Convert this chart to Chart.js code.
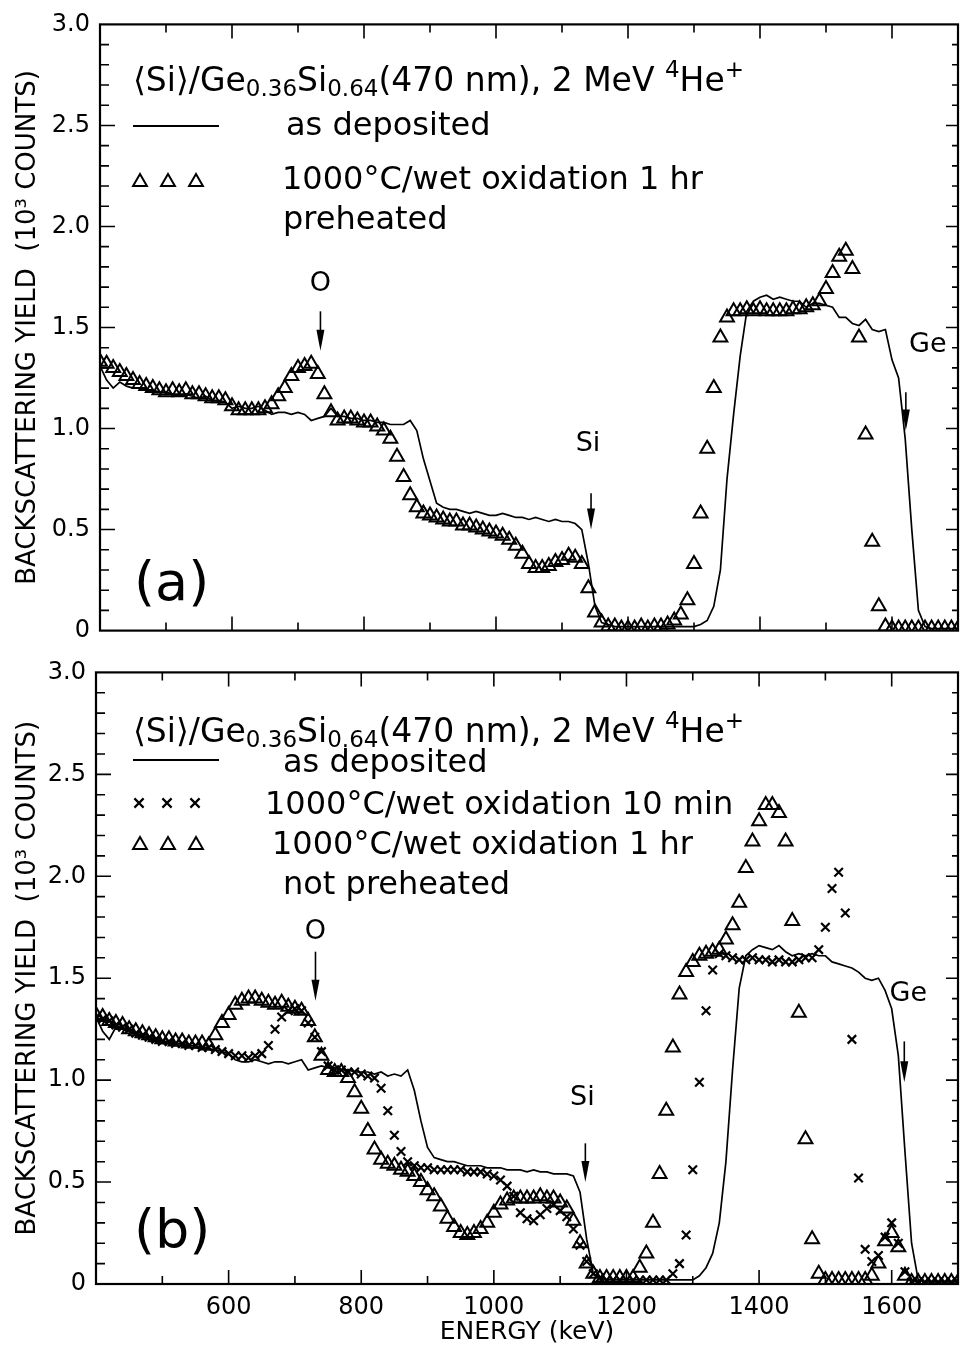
<!DOCTYPE html>
<html>
<head>
<meta charset="utf-8">
<script src="https://cdn.jsdelivr.net/npm/chart.js@4.4.1/dist/chart.umd.min.js"></script>
<style>
  html, body { margin: 0; padding: 0; background: #fff; }
  #boxA { position: absolute; left: 0; top: 0; }
  #boxB { position: absolute; left: 0; top: 648px; }
</style>
</head>
<body>
<div id="boxA"><canvas id="chartA" width="968" height="655"></canvas></div>
<div id="boxB"><canvas id="chartB" width="968" height="699"></canvas></div>
<script>
// energy channels (keV), shared by every series
const energy = [
  400, 410, 420, 430, 440, 450, 460, 470, 480, 490,
  500, 510, 520, 530, 540, 550, 560, 570, 580, 590,
  600, 610, 620, 630, 640, 650, 660, 670, 680, 690,
  700, 710, 720, 730, 740, 750, 760, 770, 780, 790,
  800, 810, 820, 830, 840, 850, 860, 870, 880, 890,
  900, 910, 920, 930, 940, 950, 960, 970, 980, 990,
  1000, 1010, 1020, 1030, 1040, 1050, 1060, 1070, 1080, 1090,
  1100, 1110, 1120, 1130, 1140, 1150, 1160, 1170, 1180, 1190,
  1200, 1210, 1220, 1230, 1240, 1250, 1260, 1270, 1280, 1290,
  1300, 1310, 1320, 1330, 1340, 1350, 1360, 1370, 1380, 1390,
  1400, 1410, 1420, 1430, 1440, 1450, 1460, 1470, 1480, 1490,
  1500, 1510, 1520, 1530, 1540, 1550, 1560, 1570, 1580, 1590,
  1600, 1610, 1620, 1630, 1640, 1650, 1660, 1670, 1680, 1690,
  1700
];

// panel (a): as deposited (line)
const depositedA = [
  1.31, 1.24, 1.20, 1.23, 1.21, 1.20, 1.20, 1.19, 1.19, 1.18,
  1.18, 1.17, 1.16, 1.17, 1.16, 1.15, 1.16, 1.14, 1.14, 1.13,
  1.10, 1.11, 1.10, 1.10, 1.11, 1.09, 1.07, 1.08, 1.08, 1.07,
  1.08, 1.07, 1.04, 1.05, 1.06, 1.10, 1.06, 1.06, 1.05, 1.05,
  1.04, 1.04, 1.03, 1.03, 1.02, 1.02, 1.02, 1.04, 0.99, 0.85,
  0.74, 0.63, 0.61, 0.60, 0.60, 0.59, 0.58, 0.59, 0.58, 0.57,
  0.57, 0.58, 0.57, 0.56, 0.56, 0.55, 0.56, 0.55, 0.54, 0.55,
  0.54, 0.54, 0.53, 0.50, 0.33, 0.12, 0.04, 0.03, 0.02, 0.02,
  0.02, 0.02, 0.02, 0.02, 0.02, 0.02, 0.02, 0.02, 0.02, 0.02,
  0.02, 0.03, 0.05, 0.12, 0.30, 0.75, 1.07, 1.36, 1.58, 1.63,
  1.65, 1.66, 1.64, 1.65, 1.64, 1.63, 1.63, 1.60, 1.62, 1.62,
  1.61, 1.60, 1.55, 1.55, 1.52, 1.51, 1.54, 1.49, 1.48, 1.49,
  1.34, 1.25, 0.95, 0.50, 0.10, 0.02, 0.01, 0.01, 0.01, 0.01,
  0.01
];

// panel (a): 1000C wet oxidation 1 hr, preheated (triangles)
const oxid1hA = [
  1.33, 1.32, 1.30, 1.28, 1.26, 1.24, 1.22, 1.21, 1.20, 1.19,
  1.18, 1.19, 1.18, 1.19, 1.17, 1.17, 1.16, 1.15, 1.15, 1.14,
  1.11, 1.09, 1.09, 1.09, 1.09, 1.10, 1.12, 1.16, 1.20, 1.26,
  1.30, 1.31, 1.32, 1.27, 1.17, 1.08, 1.04, 1.05, 1.05, 1.04,
  1.03, 1.03, 1.01, 0.99, 0.95, 0.86, 0.76, 0.67, 0.61, 0.58,
  0.57, 0.56, 0.55, 0.54, 0.54, 0.52, 0.52, 0.51, 0.50, 0.49,
  0.48, 0.47, 0.45, 0.42, 0.38, 0.33, 0.31, 0.31, 0.32, 0.34,
  0.35, 0.37, 0.36, 0.33, 0.21, 0.09, 0.04, 0.02, 0.02, 0.01,
  0.01, 0.01, 0.02, 0.01, 0.02, 0.02, 0.03, 0.05, 0.08, 0.15,
  0.33, 0.58, 0.90, 1.20, 1.45, 1.55, 1.58, 1.58, 1.59, 1.58,
  1.59, 1.58, 1.58, 1.58, 1.58, 1.59, 1.59, 1.60, 1.61, 1.63,
  1.69, 1.77, 1.85, 1.88, 1.79, 1.45, 0.97, 0.44, 0.12, 0.02,
  0.01, 0.01, 0.01, 0.01, 0.01, 0.01, 0.01, 0.01, 0.01, 0.01,
  0.01
];

// panel (b): as deposited (line)
const depositedB = [
  1.31, 1.24, 1.20, 1.26, 1.25, 1.24, 1.23, 1.22, 1.21, 1.20,
  1.19, 1.19, 1.18, 1.18, 1.17, 1.17, 1.16, 1.15, 1.15, 1.14,
  1.13, 1.10, 1.09, 1.09, 1.10, 1.09, 1.08, 1.09, 1.09, 1.08,
  1.09, 1.10, 1.05, 1.06, 1.07, 1.06, 1.06, 1.05, 1.05, 1.04,
  1.04, 1.04, 1.03, 1.04, 1.02, 1.03, 1.02, 1.05, 0.95, 0.80,
  0.67, 0.62, 0.61, 0.60, 0.60, 0.59, 0.58, 0.58, 0.58, 0.57,
  0.57, 0.57, 0.56, 0.56, 0.56, 0.55, 0.56, 0.55, 0.55, 0.54,
  0.54, 0.54, 0.53, 0.45, 0.22, 0.05, 0.03, 0.02, 0.02, 0.02,
  0.02, 0.02, 0.02, 0.02, 0.02, 0.02, 0.02, 0.02, 0.02, 0.02,
  0.02, 0.04, 0.08, 0.15, 0.30, 0.60, 1.05, 1.45, 1.61, 1.64,
  1.66, 1.65, 1.64, 1.66, 1.63, 1.61, 1.62, 1.61, 1.62, 1.61,
  1.61, 1.58, 1.57, 1.56, 1.55, 1.53, 1.50, 1.49, 1.50, 1.44,
  1.35, 1.12, 0.65, 0.20, 0.02, 0.01, 0.01, 0.01, 0.01, 0.01,
  0.01
];

// panel (b): 1000C wet oxidation 10 min, not preheated (crosses)
const oxid10mB = [
  1.31, 1.30, 1.29, 1.27, 1.26, 1.25, 1.23, 1.22, 1.21, 1.20,
  1.19, 1.19, 1.18, 1.18, 1.17, 1.17, 1.16, 1.16, 1.15, 1.14,
  1.13, 1.12, 1.12, 1.11, 1.12, 1.13, 1.17, 1.25, 1.31, 1.34,
  1.35, 1.34, 1.28, 1.21, 1.14, 1.07, 1.05, 1.05, 1.04, 1.04,
  1.03, 1.02, 1.01, 0.96, 0.85, 0.73, 0.65, 0.60, 0.58, 0.57,
  0.57, 0.56, 0.56, 0.56, 0.56, 0.56, 0.55, 0.55, 0.55, 0.54,
  0.53, 0.51, 0.48, 0.43, 0.35, 0.32, 0.31, 0.34, 0.37, 0.39,
  0.36, 0.33, 0.27, 0.19, 0.11, 0.05, 0.03, 0.02, 0.02, 0.02,
  0.02, 0.02, 0.02, 0.02, 0.02, 0.02, 0.02, 0.05, 0.10, 0.24,
  0.56, 0.99, 1.34, 1.54, 1.62, 1.61, 1.60, 1.59, 1.59, 1.60,
  1.59, 1.59, 1.58, 1.59, 1.58, 1.58, 1.59, 1.60, 1.60, 1.64,
  1.75, 1.94, 2.02, 1.82, 1.20, 0.52, 0.17, 0.11, 0.14, 0.23,
  0.30, 0.20, 0.06, 0.01, 0.01, 0.01, 0.01, 0.01, 0.01, 0.01,
  0.01
];

// panel (b): 1000C wet oxidation 1 hr, not preheated (triangles)
const oxid1hB = [
  1.32, 1.31, 1.29, 1.28, 1.27, 1.25, 1.24, 1.23, 1.22, 1.21,
  1.20, 1.20, 1.19, 1.19, 1.18, 1.18, 1.18, 1.17, 1.22, 1.28,
  1.32, 1.37, 1.39, 1.40, 1.40, 1.39, 1.38, 1.37, 1.38, 1.36,
  1.35, 1.34, 1.29, 1.21, 1.12, 1.05, 1.04, 1.04, 1.01, 0.94,
  0.86, 0.75, 0.66, 0.61, 0.59, 0.58, 0.56, 0.55, 0.53, 0.50,
  0.46, 0.43, 0.38, 0.32, 0.28, 0.25, 0.24, 0.25, 0.27, 0.30,
  0.35, 0.39, 0.41, 0.42, 0.42, 0.42, 0.42, 0.43, 0.42, 0.42,
  0.40, 0.37, 0.31, 0.20, 0.10, 0.05, 0.03, 0.03, 0.03, 0.03,
  0.03, 0.03, 0.08, 0.15, 0.30, 0.54, 0.85, 1.16, 1.42, 1.53,
  1.58, 1.61, 1.62, 1.63, 1.64, 1.69, 1.76, 1.87, 2.04, 2.17,
  2.27, 2.35, 2.35, 2.31, 2.17, 1.78, 1.33, 0.71, 0.22, 0.05,
  0.02, 0.02, 0.02, 0.02, 0.02, 0.02, 0.02, 0.04, 0.10, 0.21,
  0.25, 0.18, 0.04, 0.01, 0.01, 0.01, 0.01, 0.01, 0.01, 0.01,
  0.01
];

const yTicks = [0, 0.5, 1.0, 1.5, 2.0, 2.5, 3.0];
const xTickLabels = [600, 800, 1000, 1200, 1400, 1600];

const FONT = '"DejaVu Sans", "Liberation Sans", sans-serif';
const pts = arr => arr.map((v, i) => ({ x: energy[i], y: v }));

function lineSet(values) {
  return { data: pts(values), showLine: true, borderColor: '#000', borderWidth: 1.7,
           pointRadius: 0, tension: 0, order: 0 };
}
function triSet(values) {
  return { data: pts(values), showLine: false, pointStyle: 'triangle', pointRadius: 8,
           borderColor: '#000', backgroundColor: 'rgba(0,0,0,0)', pointBorderWidth: 2, order: 1 };
}
function crossSet(values) {
  return { data: pts(values), showLine: false, pointStyle: 'crossRot', pointRadius: 6,
           borderColor: '#000', pointBorderWidth: 2.2, order: 2 };
}

// open triangle / cross for the hand drawn legend rows
function tri(ctx, x, y, r) {
  ctx.beginPath();
  ctx.moveTo(x, y - r);
  ctx.lineTo(x + r * 0.866, y + r * 0.5);
  ctx.lineTo(x - r * 0.866, y + r * 0.5);
  ctx.closePath();
  ctx.lineWidth = 2;
  ctx.stroke();
}
function cross(ctx, x, y, r) {
  ctx.beginPath();
  ctx.moveTo(x - r, y - r); ctx.lineTo(x + r, y + r);
  ctx.moveTo(x + r, y - r); ctx.lineTo(x - r, y + r);
  ctx.lineWidth = 2.2;
  ctx.stroke();
}
function arrow(ctx, x, y0, y1) {
  ctx.beginPath();
  ctx.moveTo(x, y0); ctx.lineTo(x, y1 - 16);
  ctx.lineWidth = 1.6;
  ctx.stroke();
  ctx.beginPath();
  ctx.moveTo(x - 4, y1 - 21); ctx.lineTo(x + 4, y1 - 21); ctx.lineTo(x, y1);
  ctx.closePath();
  ctx.fill();
}
function rich(ctx, x, y, parts, size) {
  for (const [txt, mode] of parts) {
    const s = mode === 'n' ? size : Math.round(size * 0.7);
    const dy = mode === 'sub' ? size * 0.16 : mode === 'sup' ? -size * 0.42 : 0;
    ctx.font = s + 'px ' + FONT;
    ctx.fillText(txt, x, y + dy);
    x += ctx.measureText(txt).width;
  }
}
const titleParts = [['\u27E8Si\u27E9/Ge', 'n'], ['0.36', 'sub'], ['Si', 'n'], ['0.64', 'sub'],
                    ['(470 nm), 2 MeV ', 'n'], ['4', 'sup'], ['He', 'n'], ['+', 'sup']];

// frame with inward ticks on all four sides
const frame = {
  id: 'frame',
  afterDraw(chart) {
    const { ctx, chartArea: a, scales: { x, y } } = chart;
    ctx.save();
    ctx.strokeStyle = '#000';
    ctx.lineWidth = 2.2;
    ctx.strokeRect(a.left, a.top, a.right - a.left, a.bottom - a.top);
    ctx.lineWidth = 1.6;
    ctx.beginPath();
    for (let e = 500; e < 1700; e += 100) {
      const px = x.getPixelForValue(e);
      const len = e % 200 === 0 ? 14 : 8;
      ctx.moveTo(px, a.bottom); ctx.lineTo(px, a.bottom - len);
      ctx.moveTo(px, a.top); ctx.lineTo(px, a.top + len);
    }
    for (let k = 1; k < 30; k++) {
      const py = y.getPixelForValue(k / 10);
      const major = k % 5 === 0;
      ctx.moveTo(a.left, py); ctx.lineTo(a.left + (major ? 15 : 9), py);
      ctx.moveTo(a.right, py); ctx.lineTo(a.right - (major ? 12 : 6), py);
    }
    ctx.stroke();
    ctx.restore();
  }
};

// text, legend rows and arrows of each panel
function notes(spec) {
  return {
    id: 'notes',
    afterDraw(chart) {
      const { ctx, scales: { x, y } } = chart;
      ctx.save();
      ctx.fillStyle = '#000';
      ctx.strokeStyle = '#000';
      ctx.textBaseline = 'alphabetic';
      ctx.textAlign = 'left';
      rich(ctx, 133, spec.titleY, titleParts, 33);
      ctx.font = '32px ' + FONT;
      for (const t of spec.texts) ctx.fillText(t[0], t[1], t[2]);
      ctx.lineWidth = 2;
      ctx.beginPath(); ctx.moveTo(133, spec.lineY); ctx.lineTo(219, spec.lineY); ctx.stroke();
      for (const s of spec.symbols) {
        for (const sx of [140, 168, 196]) {
          if (s[0] === 'tri') tri(ctx, sx, s[1], 8); else cross(ctx, sx - 1, s[1], 4.6);
        }
      }
      ctx.font = '27px ' + FONT;
      ctx.textAlign = 'center';
      for (const m of spec.marks) {
        const px = x.getPixelForValue(m.e);
        arrow(ctx, px, y.getPixelForValue(m.y0), y.getPixelForValue(m.y1));
        ctx.fillText(m.label, px + m.dx, y.getPixelForValue(m.ly));
      }
      ctx.font = '54px ' + FONT;
      ctx.textAlign = 'left';
      ctx.fillText(spec.tag, 134, spec.tagY);
      ctx.restore();
    }
  };
}

function options(withLabels, axisLeft, padRight, xHeight) {
  return {
    responsive: false,
    animation: false,
    events: [],
    layout: { padding: { top: 20, right: padRight, left: 0, bottom: 0 } },
    plugins: { legend: { display: false }, tooltip: { enabled: false } },
    scales: {
      x: {
        type: 'linear', min: 400, max: 1700,
        grid: { display: false, drawTicks: false },
        border: { display: false },
        ticks: {
          display: withLabels, stepSize: 100, autoSkip: false, maxRotation: 0, padding: 9,
          color: '#000', font: { family: FONT, size: 24 },
          callback: v => xTickLabels.includes(v) ? String(v) : ''
        },
        title: { display: withLabels, text: 'ENERGY (keV)', color: '#000',
                 font: { family: FONT, size: 25 }, padding: { top: 0, bottom: 0 } },
        afterFit: s => { s.height = xHeight; }
      },
      y: {
        min: 0, max: 3,
        grid: { display: false, drawTicks: false },
        border: { display: false },
        afterBuildTicks: s => { s.ticks = yTicks.map(v => ({ value: v })); },
        ticks: {
          padding: 10, color: '#000', font: { family: FONT, size: 24 },
          callback: v => v === 0 ? '0' : v.toFixed(1)
        },
        title: { display: true, text: 'BACKSCATTERING YIELD  (10\u00B3 COUNTS)', color: '#000',
                 font: { family: FONT, size: 26 }, padding: { top: 13, bottom: 0 } },
        afterFit: s => { s.width = axisLeft; }
      }
    }
  };
}

new Chart(document.getElementById('chartA'), {
  type: 'scatter',
  data: { datasets: [lineSet(depositedA), triSet(oxid1hA)] },
  options: options(false, 100, 0, 18),
  plugins: [frame, notes({
    titleY: 91, lineY: 126,
    texts: [['as deposited', 286, 135], ['1000\u00B0C/wet oxidation 1 hr', 282, 189], ['preheated', 283, 229]],
    symbols: [['tri', 182]],
    marks: [
      { e: 734, y0: 1.58, y1: 1.385, label: 'O', ly: 1.68, dx: 0 },
      { e: 1144, y0: 0.68, y1: 0.50, label: 'Si', ly: 0.89, dx: -3 },
      { e: 1621, y0: 1.18, y1: 0.99, label: 'Ge', ly: 1.38, dx: 22 }
    ],
    tag: '(a)', tagY: 600
  })]
});

new Chart(document.getElementById('chartB'), {
  type: 'scatter',
  data: { datasets: [lineSet(depositedB), crossSet(oxid10mB), triSet(oxid1hB)] },
  options: options(true, 96, 4, 63),
  plugins: [frame, notes({
    titleY: 94, lineY: 112,
    texts: [['as deposited', 283, 124], ['1000\u00B0C/wet oxidation 10 min', 265, 166],
            ['1000\u00B0C/wet oxidation 1 hr', 272, 206], ['not preheated', 283, 246]],
    symbols: [['cross', 155], ['tri', 197]],
    marks: [
      { e: 731, y0: 1.63, y1: 1.39, label: 'O', ly: 1.69, dx: 0 },
      { e: 1138, y0: 0.69, y1: 0.50, label: 'Si', ly: 0.88, dx: -3 },
      { e: 1619, y0: 1.19, y1: 0.99, label: 'Ge', ly: 1.39, dx: 4 }
    ],
    tag: '(b)', tagY: 600
  })]
});
</script>
</body>
</html>
